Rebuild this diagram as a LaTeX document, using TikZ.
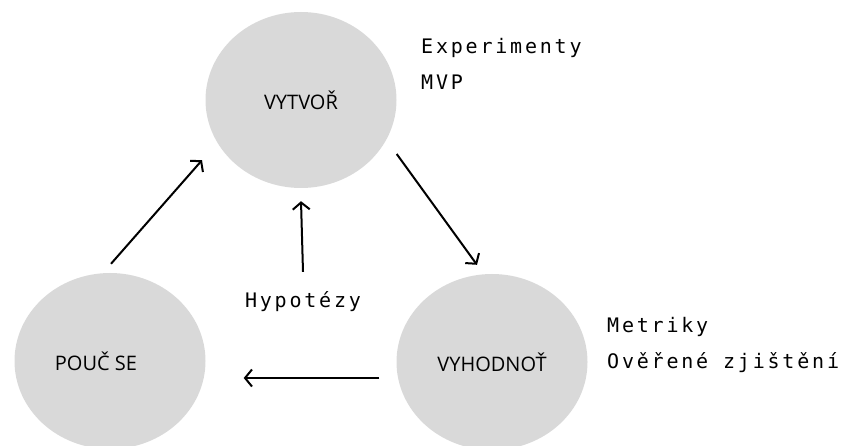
\documentclass[tikz,border=0pt]{standalone}
\usepackage{fontspec}
\usetikzlibrary{arrows.meta, shapes.geometric}
\newfontfamily\circfont{Open Sans}
\newfontfamily\notefont[LetterSpace=14]{DejaVu Sans Mono}
\definecolor{circgray}{RGB}{217,217,217}

\begin{document}
\begin{tikzpicture}[
    x=1pt, y=-1pt,
    stage/.style={ellipse, fill=circgray, minimum width=191pt, minimum height=176pt,
                  inner sep=0pt, font=\circfont\fontsize{20}{24}\selectfont},
    note/.style={anchor=base west, inner sep=0pt, align=left,
                 font=\notefont\fontsize{20}{36}\selectfont},
    arrow/.style={-{Straight Barb[length=7pt, width=17pt]}, line width=2pt}
]
    \useasboundingbox (0,0) rectangle (851,446);

    \node[stage] (create) at (301,100) {VYTVOŘ};
    \node[stage] (learn) at (110,361) {};
    \node[stage] (evaluate) at (492,362) {VYHODNOŤ};
    \node[font=\circfont\fontsize{20}{24}\selectfont] (learnlbl) at (96,361) {POUČ SE};

    \node[note] (build) at (421,90) {Experimenty\\MVP};
    \node[note] (measure) at (607,368) {Metriky\\Ověřené zjištění};
    \node[note, anchor=base] (hypo) at (303,308) {Hypotézy};

    \draw[arrow] ([shift={(1,-9)}]learn.north) -- ([shift={(-99,-28)}]create.south);
    \draw[arrow] ([shift={(0,54)}]create.east) -- ([shift={(-15,-9)}]evaluate.north);
    \draw[arrow] (hypo.north) ++(0,-20) -- ([shift={(0,13)}]create.south);
    \draw[arrow] ([shift={(-17,16)}]evaluate.west) -- ([shift={(38,17)}]learn.east);
\end{tikzpicture}
\end{document}
